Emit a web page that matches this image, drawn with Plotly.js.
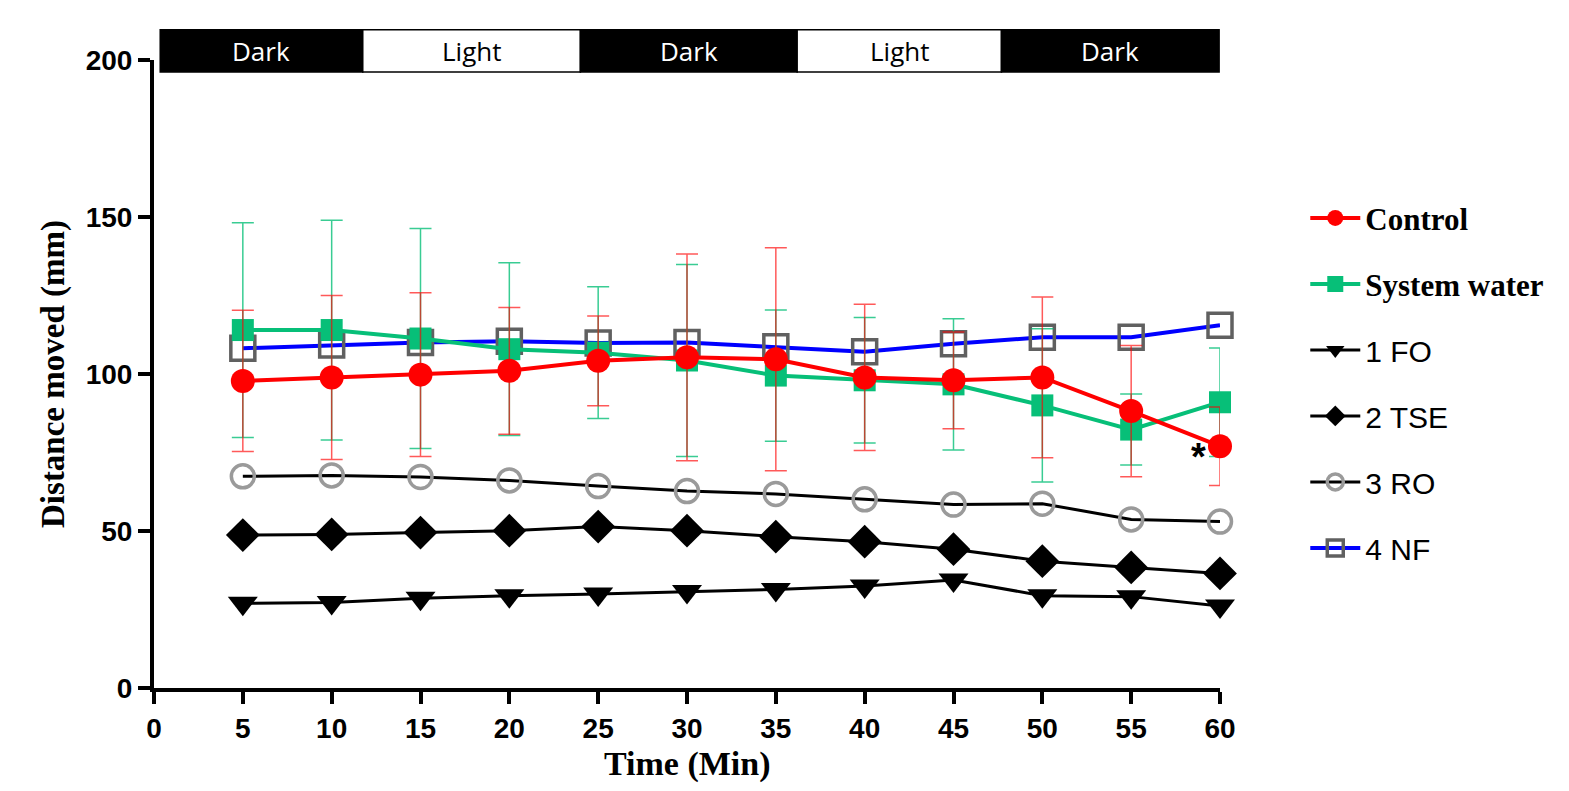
<!DOCTYPE html>
<html>
<head>
<meta charset="utf-8">
<script src="https://cdn.plot.ly/plotly-3.0.1.min.js"></script>
<style>html,body{margin:0;padding:0;background:#fff;}#chart{width:1569px;height:791px;}</style>
</head>
<body>
<div id="chart"></div>
<script>
// ---- data ----
const timeMin = [5, 10, 15, 20, 25, 30, 35, 40, 45, 50, 55, 60];

const controlMean = [97.8, 98.9, 99.8, 101.0, 104.2, 105.3, 104.7, 98.9, 98.0, 98.9, 88.2, 77.0];
const controlSD   = [22.5, 26.1, 26.1, 20.2, 14.3, 32.9, 35.5, 23.3, 15.4, 25.6, 20.9, 12.5];

const systemMean = [114.0, 114.0, 111.3, 107.9, 106.8, 104.3, 99.5, 98.0, 96.7, 90.0, 82.3, 91.0];
const systemSD   = [34.2, 35.0, 35.0, 27.5, 21.0, 30.6, 20.9, 20.0, 20.9, 24.4, 11.3, 17.3];

const foMean  = [27.0, 27.2, 28.6, 29.4, 29.9, 30.7, 31.4, 32.5, 34.4, 29.4, 29.1, 26.1];
const tseMean = [48.7, 48.9, 49.5, 50.1, 51.4, 50.1, 48.2, 46.6, 44.2, 40.4, 38.4, 36.5];
const roMean  = [67.4, 67.7, 67.2, 66.1, 64.3, 62.7, 61.8, 60.1, 58.4, 58.7, 53.7, 53.0];
const nfMean  = [108.2, 109.2, 110.0, 110.4, 109.9, 110.0, 108.7, 107.1, 109.6, 111.7, 111.7, 115.5];

const phaseLabels = ['Dark', 'Light', 'Dark', 'Light', 'Dark'];
const phaseEdges  = [0.35, 11.75, 24.0, 36.2, 47.7, 59.95];

const xTicks = [0, 5, 10, 15, 20, 25, 30, 35, 40, 45, 50, 55, 60];
const yTicks = [0, 50, 100, 150, 200];

// ---- traces ----
const TIMES = "'Times New Roman', 'Liberation Serif', serif";
const GREEN = '#07BF78';

const traces = [
  {
    name: '1 FO', x: timeMin, y: foMean, mode: 'lines+markers', legendrank: 3,
    legendgroup: 'fo', cliponaxis: false,
    line: {color: '#000', width: 3},
    marker: {symbol: 'triangle-down', size: 26, color: '#000'}
  },
  {
    name: '2 TSE', x: timeMin, y: tseMean, mode: 'lines+markers', legendrank: 4,
    legendgroup: 'tse', cliponaxis: false,
    line: {color: '#000', width: 3},
    marker: {symbol: 'diamond', size: 26, color: '#000'}
  },
  {
    name: '3 RO', x: timeMin, y: roMean, mode: 'lines+markers', legendrank: 5,
    legendgroup: 'ro', cliponaxis: false,
    line: {color: '#000', width: 3},
    marker: {symbol: 'circle-open', size: 23, color: '#9a9a9a', line: {width: 3.5}}
  },
  {
    name: '4 NF', x: timeMin, y: nfMean, mode: 'lines+markers', legendrank: 6,
    legendgroup: 'nf', cliponaxis: false,
    line: {color: '#0000FF', width: 4},
    marker: {symbol: 'square-open', size: 24, color: '#606060', line: {width: 3.5}}
  },
  {
    name: '<span style="font-family:Liberation Serif;font-weight:bold;font-size:31px">System water</span>',
    x: timeMin, y: systemMean, mode: 'lines+markers', legendrank: 2,
    legendgroup: 'sw', cliponaxis: false,
    error_y: {type: 'data', array: systemSD, visible: true, color: 'rgba(7,191,120,0.8)', thickness: 1.5, width: 11},
    line: {color: GREEN, width: 4},
    marker: {symbol: 'square', size: 22, color: GREEN}
  },
  {
    name: '<span style="font-family:Liberation Serif;font-weight:bold;font-size:31px">Control</span>',
    x: timeMin, y: controlMean, mode: 'lines+markers', legendrank: 1,
    legendgroup: 'ctl', cliponaxis: false,
    error_y: {type: 'data', array: controlSD, visible: true, color: 'rgba(255,0,0,0.65)', thickness: 1.5, width: 11},
    line: {color: '#FF0000', width: 4},
    marker: {symbol: 'circle', size: 24, color: '#FF0000'}
  }
];

// ---- phase band ----
const shapes = [];
const annotations = [];
for (let i = 0; i < phaseLabels.length; i++) {
  const dark = phaseLabels[i] === 'Dark';
  shapes.push({
    type: 'rect', xref: 'paper', yref: 'paper',
    x0: phaseEdges[i] / 60, x1: phaseEdges[i + 1] / 60,
    y0: 0.981, y1: 1.048,
    fillcolor: dark ? '#000' : '#fff',
    line: {color: '#000', width: 1.5}
  });
  annotations.push({
    xref: 'paper', yref: 'paper',
    x: (phaseEdges[i] + phaseEdges[i + 1]) / 2 / 60, y: 1.0145,
    text: phaseLabels[i], showarrow: false,
    xanchor: 'center', yanchor: 'middle',
    font: {family: "'Open Sans', sans-serif", size: 26, color: dark ? '#fff' : '#000'}
  });
}
annotations.push({
  xref: 'x', yref: 'y', x: 58.8, y: 73.5, text: '<b>*</b>', showarrow: false,
  xanchor: 'center', yanchor: 'middle',
  font: {family: 'Arial, sans-serif', size: 38, color: '#000'}
});
// x-axis title, kept just inside the bottom edge
annotations.push({
  xref: 'paper', yref: 'paper', x: 0.5, y: -0.121, text: '<b>Time (Min)</b>', showarrow: false,
  xanchor: 'center', yanchor: 'middle',
  font: {family: TIMES, size: 34, color: '#000'}
});

const layout = {
  width: 1569, height: 791,
  margin: {l: 154, r: 349, t: 60, b: 103},
  paper_bgcolor: '#fff', plot_bgcolor: '#fff',
  font: {family: 'Arial, Liberation Sans, sans-serif', color: '#000'},
  showlegend: true,
  legend: {
    x: 1.08, y: 0.79, xanchor: 'left', yanchor: 'top',
    traceorder: 'grouped', tracegroupgap: 24, itemwidth: 50,
    font: {family: 'Arial, Liberation Sans, sans-serif', size: 30, color: '#000'},
    bgcolor: 'rgba(0,0,0,0)'
  },
  xaxis: {
    range: [0, 60], tickvals: xTicks, ticktext: xTicks.map(String),
    showgrid: false, zeroline: false,
    showline: true, linecolor: '#000', linewidth: 4,
    ticks: 'outside', ticklen: 12, tickwidth: 4, tickcolor: '#000',
    tickfont: {family: 'Arial, sans-serif', size: 28, weight: 'bold', color: '#000'},
    automargin: false
  },
  yaxis: {
    range: [0, 200], tickvals: yTicks, ticktext: yTicks.map(String),
    showgrid: false, zeroline: false,
    showline: true, linecolor: '#000', linewidth: 4,
    ticks: 'outside', ticklen: 12, tickwidth: 4, tickcolor: '#000',
    tickfont: {family: 'Arial, sans-serif', size: 28, weight: 'bold', color: '#000'},
    title: {text: '<b>Distance moved (mm)</b>', font: {family: TIMES, size: 33, color: '#000'}, standoff: 12},
    automargin: false
  },
  shapes: shapes,
  annotations: annotations
};

Plotly.newPlot('chart', traces, layout, {displayModeBar: false, responsive: false});
</script>
</body>
</html>
